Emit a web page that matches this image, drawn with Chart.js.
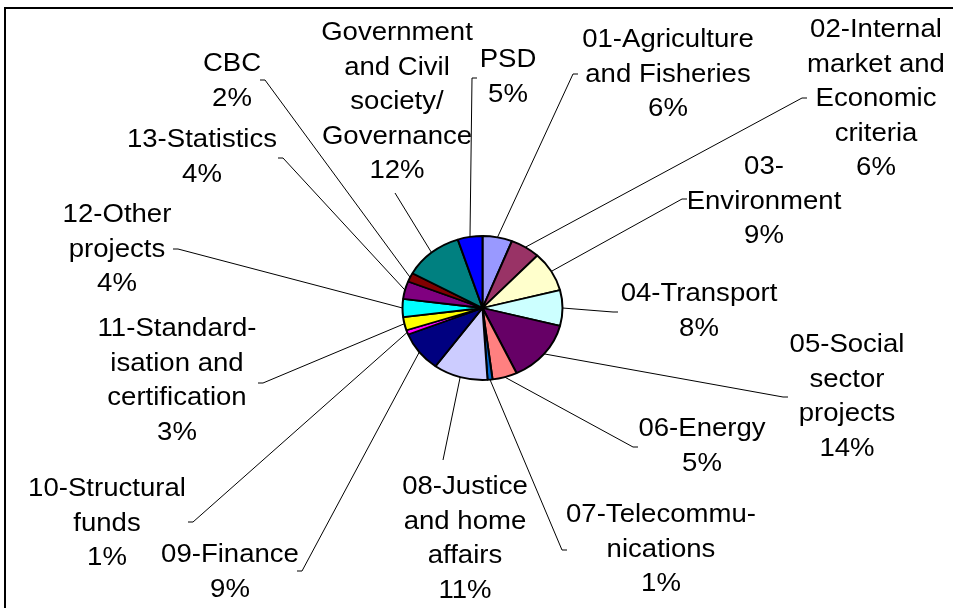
<!DOCTYPE html>
<html>
<head>
<meta charset="utf-8">
<script src="https://cdn.jsdelivr.net/npm/chart.js@4"></script>
<style>
  body { margin: 0; background: #fff; }
  #wrap { position: relative; width: 953px; height: 608px; }
</style>
</head>
<body>
<div id="wrap"><canvas id="myChart"></canvas></div>
<script>
'use strict';

// sectors, clockwise from 12 o'clock
const categories = [
  '01-Agriculture\nand Fisheries',
  '02-Internal\nmarket and\nEconomic\ncriteria',
  '03-\nEnvironment',
  '04-Transport',
  '05-Social\nsector\nprojects',
  '06-Energy',
  '07-Telecommu-\nnications',
  '08-Justice\nand home\naffairs',
  '09-Finance',
  '10-Structural\nfunds',
  '11-Standard-\nisation and\ncertification',
  '12-Other\nprojects',
  '13-Statistics',
  'CBC',
  'Government\nand Civil\nsociety/\nGovernance',
  'PSD'
];
const shares = [6, 6, 9, 8, 14, 5, 1, 11, 9, 1, 3, 4, 4, 2, 12, 5];
const colors = ['#9999FF', '#993366', '#FFFFCC', '#CCFFFF', '#660066', '#FF8080', '#0066CC', '#CCCCFF',
  '#000080', '#FF00FF', '#FFFF00', '#00FFFF', '#800080', '#800000', '#008080', '#0000FF'];

// label blocks: centre x, first line y
const labelPos = [
  [668, 38], [876, 28], [764, 165], [699, 292], [847, 343], [702, 427], [661, 513], [465, 485],
  [230, 553], [107, 487], [177, 327], [117, 213], [202, 138], [232, 62], [397, 31], [508, 58]
];
// leader line end and which side the little tick goes
const leaderEnd = [
  [573, 74, 1], [802, 98, 1], [682, 199, 1], [613, 312, 1], [783, 397, 1], [633, 447, 1], [562, 550, 1], [443, 460, 0],
  [302, 571, -1], [193, 522, -1], [263, 383, -1], [178, 249, -1], [283, 158, -1], [265, 80, -1], [395, 193, 0], [472, 78, 1]
];

const squashY = 0.9;
const lineGap = 34.5;
const textStretch = 1.06;

const ellipsePlugin = {
  id: 'ellipse',
  beforeDatasetsDraw(chart) {
    const arc = chart.getDatasetMeta(0).data[0];
    const ctx = chart.ctx;
    ctx.save();
    ctx.translate(arc.x, arc.y);
    ctx.scale(1, squashY);
    ctx.translate(-arc.x, -arc.y);
  },
  afterDatasetsDraw(chart) {
    chart.ctx.restore();
  }
};

const labelPlugin = {
  id: 'pieLabels',
  afterDraw(chart) {
    const ctx = chart.ctx;
    ctx.save();
    // frame
    ctx.strokeStyle = '#000';
    ctx.lineWidth = 2;
    ctx.beginPath();
    ctx.moveTo(5, 620);
    ctx.lineTo(5, 8);
    ctx.lineTo(960, 8);
    ctx.stroke();

    ctx.font = '26px "Liberation Sans", Arial, sans-serif';
    ctx.textAlign = 'center';
    ctx.textBaseline = 'alphabetic';
    ctx.fillStyle = '#000';
    ctx.lineWidth = 1;

    chart.getDatasetMeta(0).data.forEach((arc, i) => {
      const p = arc.getProps(['x', 'y', 'startAngle', 'endAngle', 'outerRadius']);
      const mid = (p.startAngle + p.endAngle) / 2;
      const sx = p.x + p.outerRadius * Math.cos(mid);
      const sy = p.y + p.outerRadius * squashY * Math.sin(mid);
      const [ex, ey, dir] = leaderEnd[i];
      ctx.beginPath();
      ctx.moveTo(sx, sy);
      ctx.lineTo(ex, ey);
      if (dir) ctx.lineTo(ex + dir * 5, ey);
      ctx.stroke();

      const lines = categories[i].split('\n').concat(shares[i] + '%');
      const [cx, y0] = labelPos[i];
      lines.forEach((t, k) => {
        ctx.save();
        ctx.translate(cx, y0 + k * lineGap + 9);
        ctx.scale(textStretch, 1);
        ctx.fillText(t, 0, 0);
        ctx.restore();
      });
    });
    ctx.restore();
  }
};

const data = {
  labels: categories,
  datasets: [{
    data: shares,
    backgroundColor: colors,
    borderColor: '#000',
    borderWidth: 2
  }]
};

const config = {
  type: 'pie',
  data: data,
  options: {
    responsive: true,
    maintainAspectRatio: false,
    animation: false,
    radius: 80,
    layout: { padding: { left: 12, top: 8 } },
    plugins: {
      legend: { display: false },
      tooltip: { enabled: false }
    }
  },
  plugins: [ellipsePlugin, labelPlugin]
};

const myChart = new Chart(document.getElementById('myChart'), config);
</script>
</body>
</html>
